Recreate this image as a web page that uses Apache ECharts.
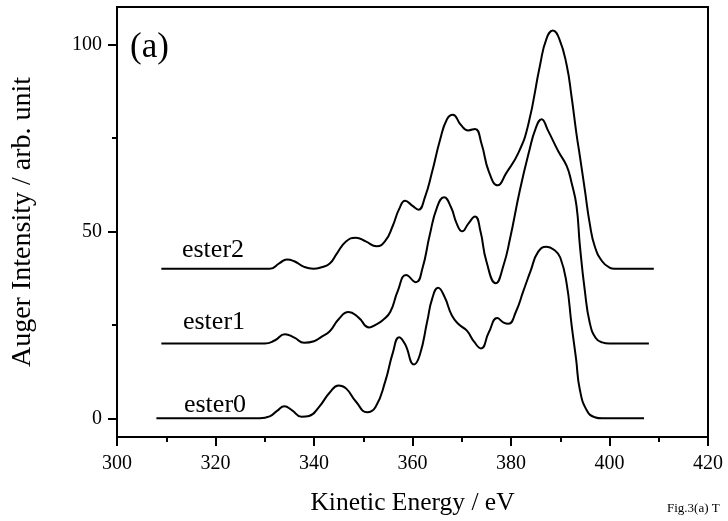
<!DOCTYPE html>
<html>
<head>
<meta charset="utf-8">
<script src="https://cdn.jsdelivr.net/npm/echarts@6/dist/echarts.min.js"></script>
<style>html,body{margin:0;padding:0;background:#fff}#c{width:728px;height:521px}</style>
</head>
<body>
<div id="c"></div>
<script>
// ---- data (kinetic energy eV, intensity incl. vertical offset) ----
const ester0X = [308,329,331,332.5,334,335.5,337.5,339,341,343.2,345,346.5,348.5,350.8,352.5,354.5,356,357.3,358.5,360.3,361.5,363,364,365.2,366.5,368,369.5,371,372.5,373.9,375.5,377.2,378.5,379.5,381,382.5,384,385.5,387.2,388.8,390,391.3,392.3,393.2,394,395.4,397,398.5,407];
const ester0Y = [0,0,0.5,2,3.2,2.2,0.4,0.6,3,6.9,8.8,8,4.5,1.6,3,10,17.5,21.7,19.8,14.4,17,26,32,34.9,32.5,27.5,25,23.5,20.5,18.7,23,26.8,25.6,25.3,28.5,34,39.5,44.5,45.9,45,43,36,25,16,7.5,2.1,0.3,0,0];

const ester1X = [309,330,332,334.1,336,338,340,341.5,343.2,345,347,349,351.2,352.5,354,355.5,357,358.7,360.7,362,363.5,365,366.4,367.8,369,370.1,371.3,372.7,373.8,375,376.9,378.5,379.8,381.8,383.7,385,386.2,387.5,389.6,391.3,392.3,393.3,394,395,396,397.2,398.5,400,408];
const ester1Y = [20,20,20.8,22.5,21.6,20.2,20.6,21.8,23.3,26.5,28.4,27,24.3,25,26.3,28.5,34,38.3,36.4,40,49,56.5,59.1,56.5,52,50,52,54,50,42,36.1,41,48,61,71.5,77.5,80,77,71.4,67.5,63,56.8,46,34,25.5,21.5,20.3,20,20];

const ester2X = [309,331,333,334.5,336,338,339.9,341.5,343.2,344.6,346.5,348.5,350.5,352.7,354.5,356,357.3,358.5,360,361.2,362.5,364,365.6,367,368.2,369.8,371.3,372.7,374,375.5,377.3,379,381.5,383.5,385.9,387.2,388.5,389.8,391.3,392.3,393.3,394,395,396,397,398.5,400,401,409];
const ester2Y = [40,40,41.5,42.5,42,40.5,40,40.4,41.4,44,47.3,48.3,47.3,46,47.5,51.5,56,58.2,56.8,55.8,59,66,74.5,80,81.2,78.5,77,77.4,73.5,66,62.3,65.5,71,78.5,94.5,101.5,103.7,101.5,94.5,86,76,70,61,52,46,42,40.3,40,40];

const seriesNames = ['ester0','ester1','ester2'];
const yTickValues = [0,50,100];
const yMinorTickValues = [25,75];

function pairs(xs, ys){ return xs.map((x,i)=>[x, ys[i]]); }

const FONT = 'Liberation Serif';
const chart = echarts.init(document.getElementById('c'), null, {renderer:'canvas'});

const lineSeries = [[ester0X,ester0Y],[ester1X,ester1Y],[ester2X,ester2Y]].map((d,i)=>({
  name: seriesNames[i],
  type: 'line',
  data: pairs(d[0], d[1]),
  smooth: 0.5,
  symbol: 'none',
  lineStyle: {color:'#000', width:2},
  z: 3
}));

const AX = {color:'#000', width:2};

chart.setOption({
  animation: false,
  backgroundColor: '#fff',
  grid: {left:117, right:20, top:7, bottom:82, show:true, borderColor:'#000', borderWidth:2, containLabel:false},
  xAxis: {
    type:'value', min:300, max:420, interval:20,
    axisLine:{show:true, onZero:false, lineStyle:AX},
    axisTick:{show:true, inside:false, length:9, lineStyle:AX},
    minorTick:{show:true, splitNumber:2, length:5, lineStyle:AX},
    axisLabel:{color:'#000', fontFamily:FONT, fontSize:20, margin:17},
    splitLine:{show:false},
    name:'Kinetic Energy / eV', nameLocation:'middle', nameGap:53,
    nameTextStyle:{color:'#000', fontFamily:FONT, fontSize:25.5}
  },
  yAxis: [{
    type:'value', min:-5, max:110, position:'left',
    axisLine:{show:true, onZero:false, lineStyle:AX},
    axisTick:{show:true, inside:false, length:9, customValues:yTickValues, lineStyle:AX},
    axisLabel:{color:'#000', fontFamily:FONT, fontSize:20, margin:15, customValues:yTickValues},
    splitLine:{show:false},
    name:'Auger Intensity / arb. unit', nameLocation:'middle', nameGap:80, nameRotate:90,
    nameTextStyle:{color:'#000', fontFamily:FONT, fontSize:28}
  },{
    type:'value', min:-5, max:110, position:'left',
    axisLine:{show:false, onZero:false},
    axisTick:{show:true, inside:false, length:5, customValues:yMinorTickValues, lineStyle:AX},
    axisLabel:{show:false},
    splitLine:{show:false}
  }],
  series: lineSeries,
  graphic: [
    {type:'text', x:130, y:48, style:{text:'(a)', font:'35px "Liberation Serif"', fill:'#000', verticalAlign:'middle'}},
    {type:'text', x:213, y:250, style:{text:'ester2', font:'26px "Liberation Serif"', fill:'#000', align:'center', verticalAlign:'middle'}},
    {type:'text', x:214, y:322, style:{text:'ester1', font:'26px "Liberation Serif"', fill:'#000', align:'center', verticalAlign:'middle'}},
    {type:'text', x:215, y:405.5, style:{text:'ester0', font:'26px "Liberation Serif"', fill:'#000', align:'center', verticalAlign:'middle'}},
    {type:'text', x:667, y:509, style:{text:'Fig.3(a) T', font:'13px "Liberation Serif"', fill:'#000', verticalAlign:'middle'}}
  ]
});
</script>
</body>
</html>
